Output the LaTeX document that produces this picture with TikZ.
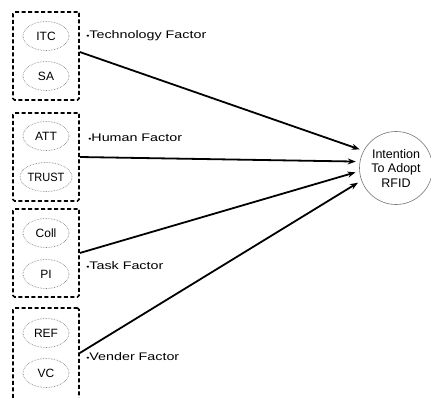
\documentclass[tikz,border=0pt]{standalone}
\usepackage{fontspec}
\setmainfont{Liberation Sans}
\usetikzlibrary{shapes.geometric,arrows.meta}

\begin{document}
\begin{tikzpicture}[x=1pt, y=-1pt,
    factor/.style={draw, dash pattern=on 4pt off 2.5pt, line width=1.6pt, rounded corners=1.5pt,
      minimum width=66pt, minimum height=88pt, inner sep=0pt},
    item/.style={ellipse, draw=black!55, densely dotted, semithick, minimum width=46pt,
      minimum height=29pt, inner sep=0pt, font=\fontsize{12}{13}\selectfont},
    tag/.style={anchor=west, inner sep=0pt, xscale=1.3, font=\fontsize{11}{12}\selectfont},
    goal/.style={circle, draw=black!55, semithick, minimum size=73pt, inner sep=0pt,
      align=center, font=\fontsize{12.5}{14.5}\selectfont},
    link/.style={-{Stealth[length=8pt,width=6pt]}, line width=1.8pt, shorten >=4pt}]
    \useasboundingbox (0,0) rectangle (431,397);

    \node[factor] (tech) at (46,56) {};
    \node[factor] (human) at (46,157) {};
    \node[factor] (task) at (46,253) {};
    \node[factor, minimum height=100pt] (vender) at (46,358) {};

    \node[item] (itc) at (46,36) {ITC};
    \node[item] (sa) at (46,76) {SA};
    \node[item] (att) at (46,136) {ATT};
    \node[item] (trust) at (46,177) {\scalebox{0.92}[1]{TRUST}};
    \node[item] (coll) at (46,233) {Coll};
    \node[item] (pi) at (46,274) {PI};
    \node[item] (ref) at (46,333) {REF};
    \node[item] (vc) at (46,373) {VC};

    \node[tag] (techtag) at (86,36) {{\scriptsize\textbullet}Technology Factor};
    \node[tag] (humantag) at (88,138) {{\scriptsize\textbullet}Human Factor};
    \node[tag] (tasktag) at (86,266) {{\scriptsize\textbullet}Task Factor};
    \node[tag] (vendertag) at (86,357) {{\scriptsize\textbullet}Vender Factor};

    \node[goal] (intent) at (396,168) {Intention\\To Adopt\\RFID};

    \draw[link] ([yshift=4pt]tech.east) -- (intent.152);
    \draw[link] (human.east) -- (intent.170);
    \draw[link] (task.east) -- (intent.185);
    \draw[link] ([yshift=5pt]vender.east) -- (intent.200);
  \end{tikzpicture}
\end{document}
